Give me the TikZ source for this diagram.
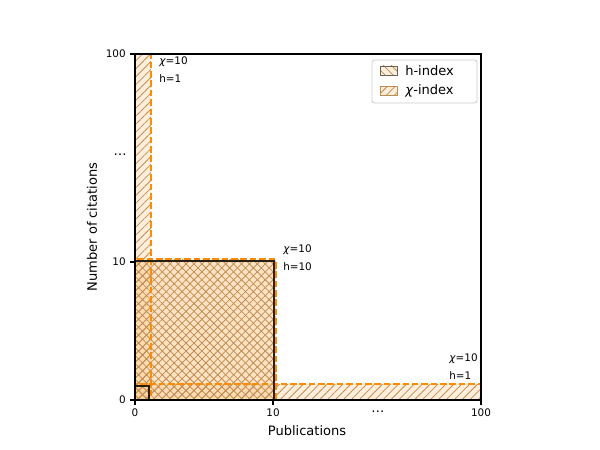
\documentclass[tikz,border=0pt]{standalone}
\usepackage{fontspec}
\setmainfont{DejaVu Sans}
\usetikzlibrary{patterns.meta}
\definecolor{chiedge}{RGB}{255,140,0}
\definecolor{fillc}{RGB}{255,200,140}
\definecolor{hatchc}{RGB}{190,140,80}
\definecolor{hedge}{RGB}{40,30,20}
\begin{document}
\begin{tikzpicture}[x=0.768pt,y=-0.768pt,
  patchfill/.style={fill=fillc,fill opacity=0.3},
  hatchne/.style={pattern={Lines[angle=45,distance=4.3pt,line width=0.6pt]},pattern color=hatchc,fill opacity=0.4},
  hatchnw/.style={pattern={Lines[angle=-45,distance=4.3pt,line width=0.6pt]},pattern color=hatchc,fill opacity=0.4},
  chiline/.style={draw=chiedge,line width=2pt,dash pattern=on 5pt off 2.2pt},
  hline/.style={draw=hedge,line width=0.8pt},
  ticklab/.style={font=\fontsize{8}{9.6}\selectfont,inner sep=0pt},
  dotslab/.style={font=\fontsize{10}{12}\selectfont,inner sep=0pt},
  annot/.style={font=\fontsize{8}{9.6}\selectfont,inner sep=0pt,anchor=west},
  axlab/.style={font=\fontsize{10}{12}\selectfont,inner sep=0pt},
  leglab/.style={font=\fontsize{10}{12}\selectfont,inner sep=0pt,anchor=west}]
\useasboundingbox (0,0) rectangle (600,450);
% fills
\fill[patchfill] (135,54) rectangle (151,400);
\fill[patchfill] (135,259.5) rectangle (275.5,400);
\fill[patchfill] (135,384) rectangle (481,400);
\fill[patchfill] (135,261) rectangle (274,400);
\fill[patchfill] (135,386) rectangle (149,400);
% hatches
\fill[hatchne] (135,54) rectangle (151,400);
\fill[hatchne] (135,259.5) rectangle (275.5,400);
\fill[hatchne] (135,384) rectangle (481,400);
\fill[hatchnw] (135,261) rectangle (274,400);
\fill[hatchnw] (135,386) rectangle (149,400);
% edges
\begin{scope}
\clip (135,54) rectangle (481,400);
\draw[chiline] (135,54) rectangle (151,400);
\draw[chiline] (135,259.5) rectangle (275.5,400);
\draw[chiline] (135,384) rectangle (481,400);
\draw[hline] (135,261) rectangle (274,400);
\draw[hline] (135,386) rectangle (149,400);
\end{scope}
% axes
\draw[line width=0.8pt] (135,54) rectangle (481,400);
\foreach \x/\l/\n in {135/0/x0,273/10/x10,481/100/x100}{
  \draw[line width=0.8pt] (\x,400) -- (\x,404.6);
  \node[ticklab] (\n) at (\x,412.5) {\l};
}
\node[dotslab] (xdots) at (378,412) {…};
\foreach \y/\l/\n in {400/0/y0,262/10/y10,54/100/y100}{
  \draw[line width=0.8pt] (135,\y) -- (130.4,\y);
  \node[ticklab,anchor=east] (\n) at (126,\y) {\l};
}
\node[dotslab,anchor=east] (ydots) at (127,155) {…};
\node[axlab] (xlab) at (307,431) {Publications};
\node[axlab,rotate=90] (ylab) at (92,227) {Number of citations};
% annotations
\node[annot] (a1) at (159,62) {\textit{χ}=10};
\node[annot] (a2) at (159,79) {h=1};
\node[annot] (b1) at (283,250) {\textit{χ}=10};
\node[annot] (b2) at (283,267) {h=10};
\node[annot] (c1) at (449,359) {\textit{χ}=10};
\node[annot] (c2) at (449,376) {h=1};
% legend
\draw[draw=black!20,fill=white,fill opacity=0.8,rounded corners=2pt,line width=0.6pt] (372,60) rectangle (477,103);
\fill[patchfill] (380,66) rectangle (397,75);
\fill[hatchnw] (380,66) rectangle (397,75);
\draw[draw=hedge!70,line width=0.6pt] (380,66) rectangle (397,75);
\fill[patchfill] (380,86) rectangle (397,95);
\fill[hatchne] (380,86) rectangle (397,95);
\draw[draw=hatchc,line width=0.6pt] (380,86) rectangle (397,95);
\node[leglab] (l1) at (405,71) {h-index};
\node[leglab] (l2) at (405,91) {\textit{χ}-index};
\end{tikzpicture}
\end{document}
